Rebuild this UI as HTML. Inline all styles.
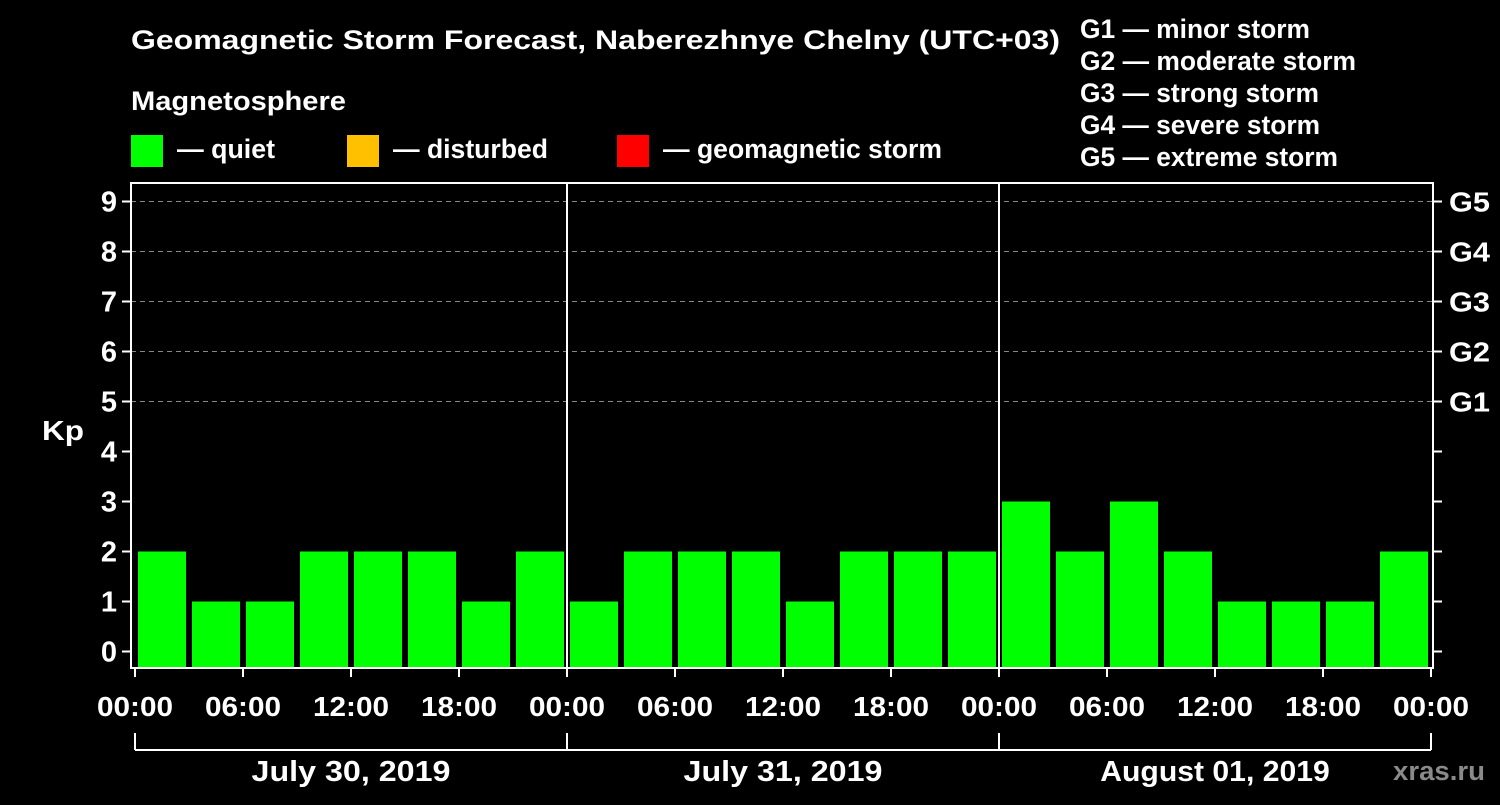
<!DOCTYPE html>
<html><head><meta charset="utf-8"><style>
body{margin:0;background:#000;width:1500px;height:800px;overflow:hidden}
svg text{font-family:"Liberation Sans",Arial,sans-serif;font-weight:bold;fill:#fff}
</style></head><body>
<svg id="chart" width="1500" height="800" xmlns="http://www.w3.org/2000/svg">
<rect width="1500" height="800" fill="#000"/>
<text x="131" y="49" font-size="27" textLength="929" lengthAdjust="spacingAndGlyphs">Geomagnetic Storm Forecast, Naberezhnye Chelny (UTC+03)</text>
<text x="131" y="110" font-size="27" textLength="215" lengthAdjust="spacingAndGlyphs">Magnetosphere</text>
<g>
<rect x="131" y="135" width="32" height="32" fill="#00ff00"/>
<text x="177" y="158" font-size="27" textLength="98" lengthAdjust="spacingAndGlyphs">— quiet</text>
<rect x="347" y="135" width="32" height="32" fill="#ffc000"/>
<text x="393" y="158" font-size="27" textLength="155" lengthAdjust="spacingAndGlyphs">— disturbed</text>
<rect x="617" y="135" width="32" height="32" fill="#ff0000"/>
<text x="663" y="158" font-size="27" textLength="279" lengthAdjust="spacingAndGlyphs">— geomagnetic storm</text>
</g>
<g>
<text x="1080" y="38" font-size="27" textLength="230" lengthAdjust="spacingAndGlyphs">G1 — minor storm</text>
<text x="1080" y="70" font-size="27" textLength="276" lengthAdjust="spacingAndGlyphs">G2 — moderate storm</text>
<text x="1080" y="102" font-size="27" textLength="239" lengthAdjust="spacingAndGlyphs">G3 — strong storm</text>
<text x="1080" y="134" font-size="27" textLength="240" lengthAdjust="spacingAndGlyphs">G4 — severe storm</text>
<text x="1080" y="166" font-size="27" textLength="258" lengthAdjust="spacingAndGlyphs">G5 — extreme storm</text>
</g>
<text x="42" y="440" font-size="28" textLength="42" lengthAdjust="spacingAndGlyphs">Kp</text>
<text x="1393" y="780" font-size="27" textLength="92" lengthAdjust="spacingAndGlyphs" style="fill:#8a8a8a">xras.ru</text>
<g id="grid"></g><g id="bars"></g><g id="axes"></g>
</svg>
<script>
const days=["July 30, 2019","July 31, 2019","August 01, 2019"];
const kp=[2,1,1,2,2,2,1,2, 1,2,2,2,1,2,2,2, 3,2,3,2,1,1,1,2];
const yTicks=[0,1,2,3,4,5,6,7,8,9];
const gLabels=["G1","G2","G3","G4","G5"];
const hourLabels=["00:00","06:00","12:00","18:00"];
const NS="http://www.w3.org/2000/svg";
const X0=135,DAYW=432,PL=131,PR=1433,PT=183,PB=668;
const y=v=>651.5-v*50;
const x=h=>X0+h/24*DAYW;
function mk(tag,attrs,parent,txt){const e=document.createElementNS(NS,tag);for(const k in attrs)e.setAttribute(k,attrs[k]);if(txt!=null)e.textContent=txt;parent.appendChild(e);return e;}
const grid=document.getElementById('grid'),bars=document.getElementById('bars'),axes=document.getElementById('axes');
yTicks.forEach(v=>{
 if(v>=5){const l=mk('line',{x1:PL,x2:PR,y1:y(v),y2:y(v),stroke:'#888','stroke-width':1,'stroke-dasharray':'5,4'},grid);
 
 }
 const t=mk('line',{x1:PL-9,x2:PL,y1:y(v),y2:y(v),stroke:'#fff','stroke-width':2},axes);
 
 
 const lb=mk('text',{x:117,y:y(v)+10,'font-size':29,'text-anchor':'end'},axes,String(v));
 
 
 const rt=mk('line',{x1:PR,x2:PR+9,y1:y(v),y2:y(v),stroke:'#fff','stroke-width':2},axes);
 
 
});
gLabels.forEach((g,i)=>{
 const t=mk('text',{x:1449,y:y(5+i)+10,'font-size':28,textLength:41,lengthAdjust:'spacingAndGlyphs'},axes,g);
 
 
});
kp.forEach((v,i)=>{
 const c=v>=5?'#ff0000':(v>=4?'#ffc000':'#00ff00');
 const r=mk('rect',{x:x(i*3)+3,y:y(v),width:DAYW/8-6,height:PB-y(v),fill:c},bars);
 
 
});
const fr=mk('rect',{x:PL,y:PT,width:PR-PL,height:PB-PT,fill:'none',stroke:'#fff','stroke-width':2},axes);


for(let d=1;d<days.length;d++){
 const l=mk('line',{x1:x(d*24),x2:x(d*24),y1:PT,y2:PB,stroke:'#fff','stroke-width':2},axes);
 
 
}
for(let d=0;d<=days.length;d++){
 for(let k=0;k<hourLabels.length;k++){
  if(d===days.length&&k>0)break;
  const h=d*24+k*6;
  const t=mk('line',{x1:x(h),x2:x(h),y1:PB,y2:PB+9,stroke:'#fff','stroke-width':2},axes);
  
  
  const lb=mk('text',{x:x(h)-38,y:716,'font-size':28,textLength:76,lengthAdjust:'spacingAndGlyphs'},axes,hourLabels[k]);
  
  
 }
 const b=mk('line',{x1:x(d*24),x2:x(d*24),y1:733,y2:750,stroke:'#fff','stroke-width':2},axes);
 
 
}
const bl=mk('line',{x1:x(0),x2:x(days.length*24),y1:750,y2:750,stroke:'#fff','stroke-width':2},axes);


days.forEach((d,i)=>{
 const w=d.length*15.3;
 const t=mk('text',{x:x(i*24+12)-w/2,y:781,'font-size':29,textLength:w,lengthAdjust:'spacingAndGlyphs'},axes,d);
 
 
});
</script>
</body></html>
